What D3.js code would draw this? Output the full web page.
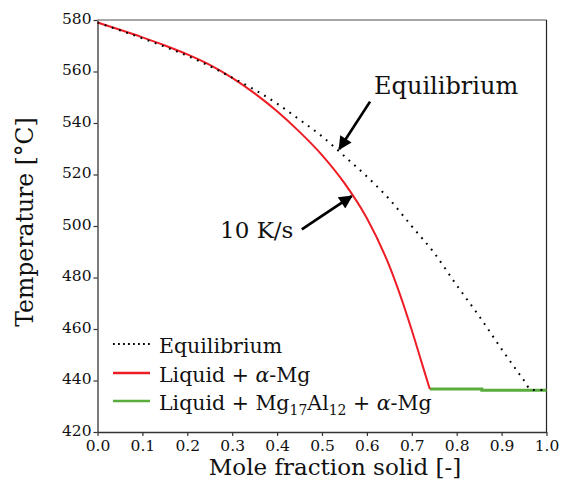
<!DOCTYPE html>
<html>
<head>
<meta charset="utf-8">
<script src="https://cdn.jsdelivr.net/npm/d3@7"></script>
<style>
  body { margin: 0; background: #fff; }
  svg text { font-family: "DejaVu Serif", serif; fill: #111; }
</style>
</head>
<body>
<div id="chart"></div>
<script>
// mole fraction solid vs temperature
let eqX = [0, 0.05, 0.10, 0.15, 0.20, 0.25, 0.30, 0.35, 0.40, 0.45, 0.50, 0.55, 0.60, 0.65, 0.70, 0.75, 0.80, 0.85, 0.90, 0.95, 0.966, 1.0];
let eqT = [579, 576, 572.9, 569.6, 566.1, 562.1, 557.6, 552.9, 547.5, 541.3, 534.8, 527.1, 519.2, 510.4, 499.9, 489.5, 477.0, 465.0, 452.2, 440.0, 436.3, 436.3];

let redX = [0, 0.05, 0.10, 0.15, 0.20, 0.25, 0.30, 0.35, 0.40, 0.45, 0.50, 0.55, 0.60, 0.65, 0.70, 0.72, 0.74];
let redT = [579, 576.2, 573.25, 570.1, 566.65, 562.6, 557.55, 551.5, 544.55, 536.55, 527.55, 516.65, 503.0, 484.5, 459.5, 448.1, 436.7];

let greenX = [0.74, 0.856, 0.856, 1.0];
let greenT = [436.7, 436.7, 436.2, 436.2];

let xTicks = [0, 0.1, 0.2, 0.3, 0.4, 0.5, 0.6, 0.7, 0.8, 0.9, 1.0];
let yTicks = [420, 440, 460, 480, 500, 520, 540, 560, 580];

// annotation arrows [x, T] for tail and tip
let eqArrow = [[0.607, 548.3], [0.5385, 529.9]];
let rateArrow = [[0.455, 498.7], [0.566, 511.6]];

let width = 561, height = 503;

let svg = d3.select('#chart').append('svg')
  .attr('width', width).attr('height', height);

let x = d3.scaleLinear().domain([0, 1]).range([97.5, 546.5]);
let y = d3.scaleLinear().domain([420, 580]).range([432, 20]);

// frame
svg.append('line').attr('x1', x(0)).attr('x2', x(1)).attr('y1', y(580)).attr('y2', y(580))
  .style('stroke', '#8a8a8a').style('stroke-width', 1.5);
svg.append('line').attr('x1', x(1)).attr('x2', x(1)).attr('y1', y(580)).attr('y2', y(420))
  .style('stroke', '#222').style('stroke-width', 1.2);

let xAxis = svg.append('g').attr('transform', 'translate(0,' + y(420) + ')')
  .call(d3.axisBottom(x).tickValues(xTicks).tickFormat(d3.format('.1f')).tickSize(4).tickSizeOuter(0));
let yAxis = svg.append('g').attr('transform', 'translate(' + x(0) + ',0)')
  .call(d3.axisLeft(y).tickValues(yTicks).tickSize(4).tickSizeOuter(0));

[xAxis, yAxis].forEach(function(a) {
  a.attr('font-family', null).attr('font-size', null);
  a.select('.domain').style('stroke', '#333').style('stroke-width', 1.3);
  a.selectAll('.tick line').style('stroke', '#333').style('stroke-width', 1.2);
  a.selectAll('text').style('font-family', '"DejaVu Serif", serif').style('font-size', '15.5px').style('fill', '#111');
});
xAxis.selectAll('text').attr('y', 8);
yAxis.selectAll('text').attr('x', -6).attr('dy', '0.2em');

let line = d3.line()
  .x(function(d) { return x(d[0]); })
  .y(function(d) { return y(d[1]); });
let smooth = d3.line()
  .x(function(d) { return x(d[0]); })
  .y(function(d) { return y(d[1]); })
  .curve(d3.curveMonotoneX);

svg.append('path').datum(greenX.map(function(v, i) { return [v, greenT[i]]; }))
  .attr('d', line).style('fill', 'none').style('stroke', '#5aad3c').style('stroke-width', 3);

svg.append('path').datum(redX.map(function(v, i) { return [v, redT[i]]; }))
  .attr('d', smooth).style('fill', 'none').style('stroke', '#ee1c24').style('stroke-width', 2);

svg.append('path').datum(eqX.map(function(v, i) { return [v, eqT[i]]; }))
  .attr('d', smooth).style('fill', 'none').style('stroke', '#000').style('stroke-width', 2)
  .style('stroke-dasharray', '1.8,5.8');

// arrows
svg.append('defs').append('marker')
  .attr('id', 'head').attr('viewBox', '0 0 10 10').attr('refX', 9).attr('refY', 5)
  .attr('markerWidth', 6).attr('markerHeight', 5).attr('markerUnits', 'strokeWidth')
  .attr('orient', 'auto')
  .append('path').attr('d', 'M0,0 L10,5 L0,10 Z').style('fill', '#000');

[eqArrow, rateArrow].forEach(function(a) {
  svg.append('line')
    .attr('x1', x(a[0][0])).attr('y1', y(a[0][1]))
    .attr('x2', x(a[1][0])).attr('y2', y(a[1][1]))
    .style('stroke', '#000').style('stroke-width', 2.7)
    .attr('marker-end', 'url(#head)');
});

svg.append('text').attr('x', x(0.616)).attr('y', y(551.1))
  .style('font-size', '24px').text('Equilibrium');
svg.append('text').attr('x', x(0.273)).attr('y', y(495.3))
  .style('font-size', '23px').text('10 K/s');

// axis titles
svg.append('text').attr('x', 335).attr('y', 475).attr('text-anchor', 'middle')
  .style('font-size', '23px').text('Mole fraction solid [-]');
svg.append('text').attr('transform', 'translate(33,222) rotate(-90)').attr('text-anchor', 'middle')
  .style('font-size', '23.5px').text('Temperature [°C]');

// legend
let legend = svg.append('g');
let rows = [353, 381.5, 409.5];
legend.append('line').attr('x1', 113).attr('x2', 150).attr('y1', rows[0] - 9).attr('y2', rows[0] - 9)
  .style('stroke', '#000').style('stroke-width', 2).style('stroke-dasharray', '1.8,3.2');
legend.append('line').attr('x1', 113).attr('x2', 150).attr('y1', rows[1] - 8.5).attr('y2', rows[1] - 8.5)
  .style('stroke', '#ee1c24').style('stroke-width', 2.5);
legend.append('line').attr('x1', 113).attr('x2', 150).attr('y1', rows[2] - 8.5).attr('y2', rows[2] - 8.5)
  .style('stroke', '#5aad3c').style('stroke-width', 2.5);

legend.append('text').attr('x', 159).attr('y', rows[0]).style('font-size', '20.5px').text('Equilibrium');
let t2 = legend.append('text').attr('x', 159).attr('y', rows[1]).style('font-size', '20.5px');
t2.append('tspan').text('Liquid + ');
t2.append('tspan').style('font-style', 'italic').text('α');
t2.append('tspan').text('-Mg');
let t3 = legend.append('text').attr('x', 159).attr('y', rows[2]).style('font-size', '20.5px');
t3.append('tspan').text('Liquid + Mg');
t3.append('tspan').attr('dy', 5).style('font-size', '14px').text('17');
t3.append('tspan').attr('dy', -5).text('Al');
t3.append('tspan').attr('dy', 5).style('font-size', '14px').text('12');
t3.append('tspan').attr('dy', -5).text(' + ');
t3.append('tspan').style('font-style', 'italic').text('α');
t3.append('tspan').text('-Mg');
</script>
</body>
</html>
